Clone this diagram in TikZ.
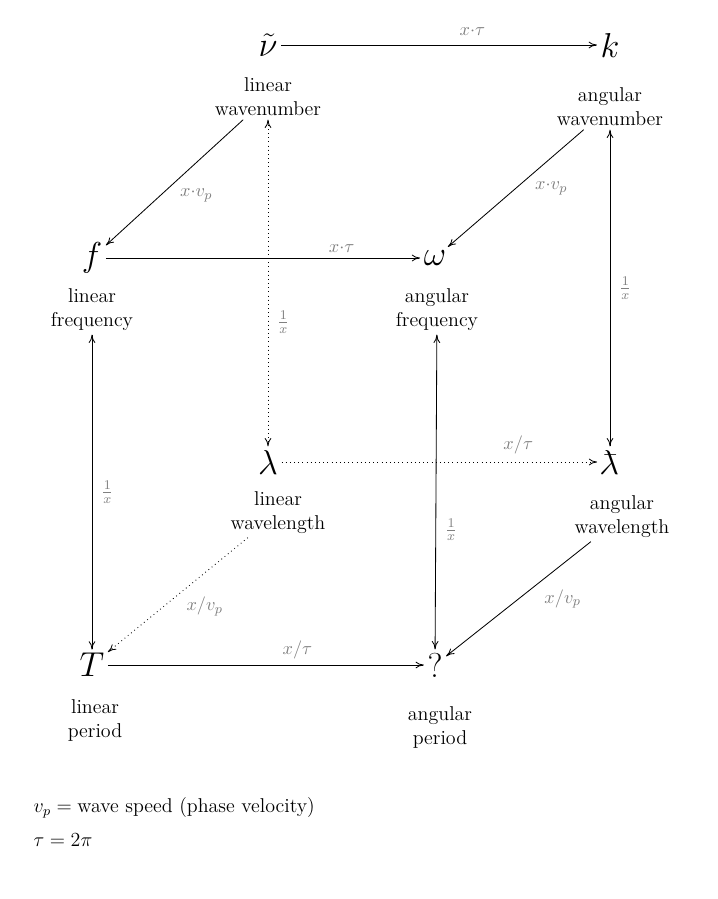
\documentclass[tikz,border=0pt]{standalone}
\usetikzlibrary{arrows.meta}
\def\lambdabar{{\mkern0.75mu\mathchar'26\mkern-9.75mu\lambda}}
\begin{document}
\begin{tikzpicture}[x=0.6pt,y=-0.6pt,
  sym/.style={font=\fontsize{20}{24}\selectfont,inner sep=2pt},
  lab/.style={font=\fontsize{12}{14.4}\selectfont,align=center,inner sep=2pt},
  el/.style={font=\fontsize{11}{13}\selectfont,text=gray},
  arr/.style={-{To[length=5pt,width=4pt]},line width=0.5pt},
  darr/.style={{To[length=5pt,width=4pt]}-{To[length=5pt,width=4pt]},line width=0.5pt},
  dot/.style={dotted}]
\useasboundingbox (0,0) rectangle (717,899);
\node[sym] (nu) at (268,45) {$\tilde\nu$};
\node[sym] (k) at (610,45) {$k$};
\node[sym] (f) at (92,258) {$f$};
\node[sym] (om) at (435,258) {$\omega$};
\node[sym] (lam) at (268,462) {$\lambda$};
\node[sym] (lb) at (610,462) {$\lambdabar$};
\node[sym] (T) at (92,665) {$T$};
\node[sym] (q) at (435,665) {$?$};
\node[lab] (nul) at (268,97) {linear\\wavenumber};
\node[lab] (kl) at (610,107) {angular\\wavenumber};
\node[lab] (fl) at (92,310) {linear\\frequency};
\node[lab] (oml) at (437,310) {angular\\frequency};
\node[lab] (laml) at (278,513) {linear\\wavelength};
\node[lab] (lbl) at (622,517) {angular\\wavelength};
\node[lab] (Tl) at (95,720) {linear\\period};
\node[lab] (ql) at (440,727) {angular\\period};
\node[lab,align=left,anchor=west] (lg1) at (30,808) {$v_p=\hbox{wave speed (phase velocity)}$};
\node[lab,align=left,anchor=west] (lg2) at (30,840) {$\tau=2\pi$};
\draw[arr] (nu) -- (k) node[el,midway,above=2pt,xshift=20pt] {$x{\cdot}\tau$};
\draw[arr] (nul) -- (f) node[el,pos=0.6,right=8pt] {$x{\cdot}v_p$};
\draw[arr] (kl) -- (om) node[el,pos=0.5,right=8pt] {$x{\cdot}v_p$};
\draw[arr] (f) -- (om) node[el,pos=0.75,above] {$x{\cdot}\tau$};
\draw[darr,dot] (nul) -- (lam) node[el,pos=0.62,right=2pt] {$\frac{1}{x}$};
\draw[darr] (kl) -- (lb) node[el,pos=0.5,right=2pt] {$\frac{1}{x}$};
\draw[darr] (fl) -- (T) node[el,pos=0.5,right=2pt] {$\frac{1}{x}$};
\draw[darr] (oml) -- (q) node[el,pos=0.62,right=2pt] {$\frac{1}{x}$};
\draw[arr,dot] (lam) -- (lb) node[el,pos=0.75,above=1pt] {$x/\tau$};
\draw[arr,dot] (laml) -- (T) node[el,pos=0.6,right=10pt] {$x/v_p$};
\draw[arr] (lbl) -- (q) node[el,pos=0.5,right=12pt] {$x/v_p$};
\draw[arr] (T) -- (q) node[el,pos=0.6,above] {$x/\tau$};
\end{tikzpicture}
\end{document}
